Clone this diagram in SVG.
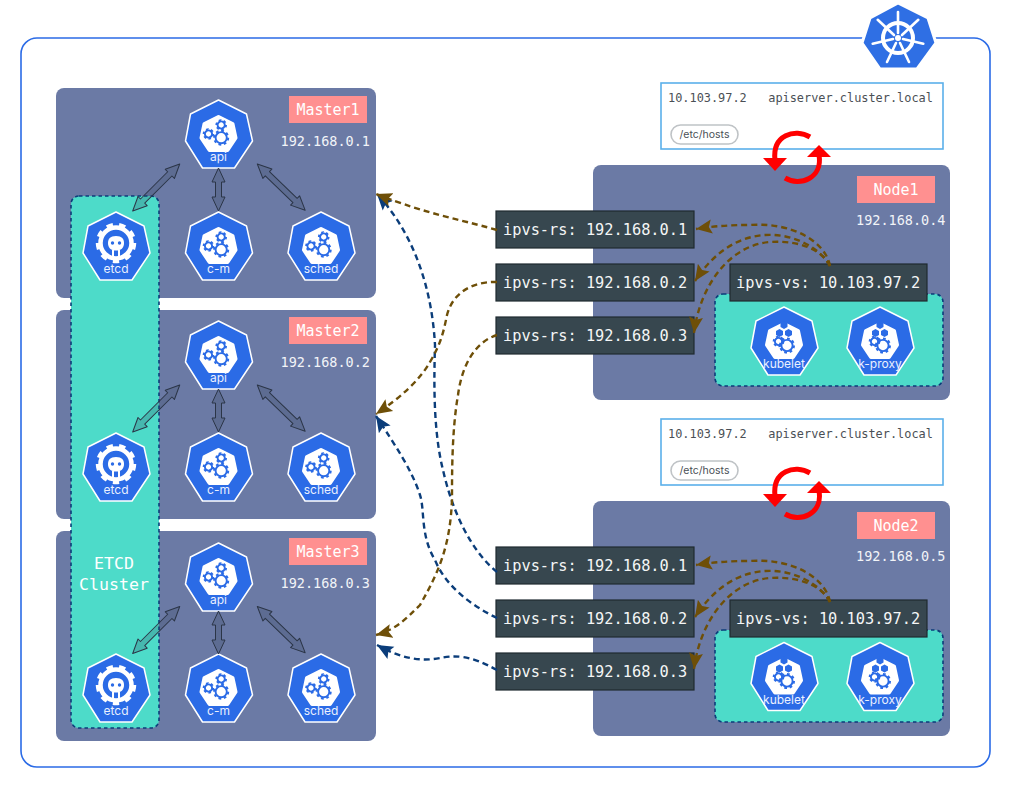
<svg xmlns="http://www.w3.org/2000/svg" width="1024" height="794" viewBox="0 0 1024 794">
<style>
.panel{fill:#6b7aa5}
.teal{fill:#4ddbc9;stroke:#0b3d7a;stroke-width:1.6;stroke-dasharray:3.5 3}
.tag{fill:#ff9090}
.tagt{font:15px "DejaVu Sans Mono",monospace;fill:#fff;text-anchor:middle}
.ip{font:13.500px "DejaVu Sans Mono",monospace;fill:#f2f4f8}
.box{fill:#37474f;stroke:#1f2a30;stroke-width:1.2}
.boxt{font:15.300px "DejaVu Sans Mono",monospace;fill:#f4f6f6}
.hosts{fill:#fff;stroke:#5ab0ea;stroke-width:1.6}
.hostt{font:11.900px "DejaVu Sans Mono",monospace;fill:#4a4f55;white-space:pre}
.pill{fill:#fff;stroke:#bfc3c6;stroke-width:1.6}
.pillt{font:10.500px "Inter","Noto Sans",sans-serif;fill:#4a4f55;text-anchor:middle}
.lbl{font:12px "Inter","Noto Sans",sans-serif;fill:#eaf0ff;text-anchor:middle}
.b{fill:none;stroke:#6e4f08;stroke-width:2.4;stroke-dasharray:6 4;marker-end:url(#hb)}
.n{fill:none;stroke:#0b3d7a;stroke-width:2.4;stroke-dasharray:6 4;marker-end:url(#hn)}
.da{fill:#2f3a50;fill-opacity:.22;stroke:#2b3547;stroke-width:1;stroke-linejoin:round}
.sync{fill:none;stroke:#f00;stroke-width:5}
.gr{fill:none;stroke:#2b6be6;stroke-width:1.9}
.gt{fill:none;stroke:#2b6be6;stroke-width:2;stroke-dasharray:1 1}
</style>
<defs>
<marker id="hb" markerUnits="userSpaceOnUse" markerWidth="17" markerHeight="16" refX="16" refY="8" orient="auto"><path d="M0 1L16 8L0 15L3 8Z" fill="#6e4f08"/></marker>
<marker id="hn" markerUnits="userSpaceOnUse" markerWidth="17" markerHeight="16" refX="16" refY="8" orient="auto"><path d="M0 1L16 8L0 15L3 8Z" fill="#0b3d7a"/></marker>
<path id="hex" d="M0 0L28 14L34 41L16 68L-16 68L-33 41L-28 14Z" fill="#2b6be6" stroke="#fff" stroke-width="1.5" stroke-linejoin="round"/>
<path id="inner" d="M0 17L14 24L17 38L9 50L-9 50L-17 38L-14 24Z" fill="#fff" stroke="#fff" stroke-width="4" stroke-linejoin="round"/>
<g id="g1"><circle r="5.6" class="gr"/><circle r="7" class="gt" pathLength="16"/></g>
<g id="g2"><circle r="3.6" class="gr"/><circle r="4.8" class="gt" pathLength="12"/></g>
<g id="ctrl"><use href="#hex"/><use href="#inner"/><use href="#g1" x="2.7" y="37.7"/><use href="#g2" x="-10" y="34"/><use href="#g2" x="2.7" y="25"/></g>
<g id="etcdi"><use href="#hex"/><circle cy="31" r="15.500" fill="none" stroke="#fff" stroke-width="4.500"/><circle cy="31" r="18.500" fill="none" stroke="#fff" stroke-width="3.500" stroke-dasharray="1 1" pathLength="18"/><path d="M0 24C6 24 8 27 8 31C8 36 5 38.500 0 38.500C-5 38.500 -8 36 -8 31C-8 27 -6 24 0 24Z" fill="#fff"/><circle cx="-3.500" cy="31" r="1.700" fill="#2b6be6"/><circle cx="3.500" cy="31" r="1.700" fill="#2b6be6"/><path d="M-4 38H-2V46H-4ZM2 38H4V46H2Z" fill="#fff"/></g>
<path id="cube" d="M0 -4L3.500 -2V2L0 4L-3.500 2V-2Z" fill="#2b6be6"/>
<g id="wk"><use href="#hex"/><use href="#inner"/><use href="#cube" y="18"/><use href="#cube" x="-4.500" y="26"/><use href="#cube" x="4.500" y="26"/><use href="#g1" x="3" y="38.500"/><use href="#g2" x="-5.500" y="34.500"/></g>
<path id="dal" d="M0 0L14 -6.500V-3H52.500V-6.500L66.500 0L52.500 6.500V3H14V6.500Z" class="da"/>
<path id="das" d="M0 0L14 -6.500V-3H29V-6.500L43 0L29 6.500V3H14V6.500Z" class="da"/>
</defs>

<rect width="1024" height="794" fill="#fff"/>
<rect id="cluster" x="21" y="38" width="969" height="729" rx="16" fill="#fff" stroke="#2b6be6" stroke-width="1.6"/>

<g id="k8s-logo">
<path d="M898 3L928 18L936 43L917 69L880 69L862 43L870 18Z" fill="#2f6fe4" stroke="#fff" stroke-width="3" stroke-linejoin="round"/>
<circle cx="898" cy="38" r="15" fill="none" stroke="#fff" stroke-width="4"/>
<circle cx="898" cy="38" r="3" fill="#fff"/>
<g stroke="#fff" stroke-width="2.600" stroke-linecap="round">
<path d="M898 33V12"/><path d="M902 35L918.300 19.800"/><path d="M903 39L923.300 43.800"/><path d="M900 43L909 62"/><path d="M896 43L887 62"/><path d="M893 39L872.700 43.800"/><path d="M894 35L877.700 19.800"/>
</g>
</g>

<g id="master1"><rect class="panel" x="56" y="88" width="320" height="210" rx="8"/><rect class="tag" x="289" y="96" width="78" height="27"/><text class="tagt" x="328" y="115">Master1</text><text class="ip" x="280.500" y="146">192.168.0.1</text></g>
<g id="master2"><rect class="panel" x="56" y="310" width="320" height="209" rx="8"/><rect class="tag" x="289" y="317" width="78" height="27"/><text class="tagt" x="328" y="336">Master2</text><text class="ip" x="280.500" y="367">192.168.0.2</text></g>
<g id="master3"><rect class="panel" x="56" y="531" width="320" height="210" rx="8"/><rect class="tag" x="289" y="538" width="78" height="27"/><text class="tagt" x="328" y="557">Master3</text><text class="ip" x="280.500" y="588">192.168.0.3</text></g>

<g id="etcd-cluster"><rect class="teal" x="71" y="196" width="88" height="532" rx="8"/><text class="tagt" style="font-size:16.600px" x="114" y="569">ETCD</text><text class="tagt" style="font-size:16.600px" x="114" y="590">Cluster</text></g>

<g id="m1-api" transform="translate(218.500 100)"><use href="#ctrl"/><text class="lbl" y="61">api</text></g>
<g id="m1-etcd" transform="translate(116 212)"><use href="#etcdi"/><text class="lbl" y="61">etcd</text></g>
<g id="m1-cm" transform="translate(218.500 212)"><use href="#ctrl"/><text class="lbl" y="61">c-m</text></g>
<g id="m1-sched" transform="translate(321 212)"><use href="#ctrl"/><text class="lbl" y="61">sched</text></g>
<g id="m2-api" transform="translate(218.500 321)"><use href="#ctrl"/><text class="lbl" y="61">api</text></g>
<g id="m2-etcd" transform="translate(116 433)"><use href="#etcdi"/><text class="lbl" y="61">etcd</text></g>
<g id="m2-cm" transform="translate(218.500 433)"><use href="#ctrl"/><text class="lbl" y="61">c-m</text></g>
<g id="m2-sched" transform="translate(321 433)"><use href="#ctrl"/><text class="lbl" y="61">sched</text></g>
<g id="m3-api" transform="translate(218.500 543)"><use href="#ctrl"/><text class="lbl" y="61">api</text></g>
<g id="m3-etcd" transform="translate(116 654)"><use href="#etcdi"/><text class="lbl" y="61">etcd</text></g>
<g id="m3-cm" transform="translate(218.500 654)"><use href="#ctrl"/><text class="lbl" y="61">c-m</text></g>
<g id="m3-sched" transform="translate(321 654)"><use href="#ctrl"/><text class="lbl" y="61">sched</text></g>

<g id="hosts1"><rect class="hosts" x="661" y="83" width="282" height="66"/><text class="hostt" x="668" y="102">10.103.97.2   apiserver.cluster.local</text><rect class="pill" x="671" y="125" width="67" height="19" rx="9.500"/><text class="pillt" x="704.500" y="138">/etc/hosts</text></g>
<g id="hosts2"><rect class="hosts" x="661" y="419" width="282" height="66"/><text class="hostt" x="668" y="438">10.103.97.2   apiserver.cluster.local</text><rect class="pill" x="671" y="461" width="67" height="19" rx="9.500"/><text class="pillt" x="704.500" y="474">/etc/hosts</text></g>

<g id="node1"><rect class="panel" x="593" y="165" width="357" height="235" rx="8"/><rect class="tag" x="857" y="176" width="78" height="27"/><text class="tagt" x="896" y="195">Node1</text><text class="ip" x="856" y="225">192.168.0.4</text><rect class="teal" x="715" y="294" width="228" height="92" rx="8"/></g>
<g id="node2"><rect class="panel" x="593" y="501" width="357" height="235" rx="8"/><rect class="tag" x="857" y="512" width="78" height="27"/><text class="tagt" x="896" y="531">Node2</text><text class="ip" x="856" y="561">192.168.0.5</text><rect class="teal" x="715" y="630" width="228" height="92" rx="8"/></g>

<g id="n1-kubelet" transform="translate(784 307)"><use href="#wk"/><text class="lbl" y="61">kubelet</text></g>
<g id="n1-kproxy" transform="translate(880 307)"><use href="#wk"/><text class="lbl" y="61">k-proxy</text></g>
<g id="n2-kubelet" transform="translate(784 642.500)"><use href="#wk"/><text class="lbl" y="61">kubelet</text></g>
<g id="n2-kproxy" transform="translate(880 642.500)"><use href="#wk"/><text class="lbl" y="61">k-proxy</text></g>

<g id="n1-rs1"><rect class="box" x="496" y="211" width="198" height="37"/><text class="boxt" x="503" y="235">ipvs-rs: 192.168.0.1</text></g>
<g id="n1-rs2"><rect class="box" x="496" y="264" width="198" height="37"/><text class="boxt" x="503" y="288">ipvs-rs: 192.168.0.2</text></g>
<g id="n1-rs3"><rect class="box" x="496" y="317" width="198" height="37"/><text class="boxt" x="503" y="341">ipvs-rs: 192.168.0.3</text></g>
<g id="n1-vs"><rect class="box" x="730" y="264" width="197" height="37"/><text class="boxt" x="736" y="288">ipvs-vs: 10.103.97.2</text></g>
<g id="n2-rs1"><rect class="box" x="496" y="547" width="198" height="37"/><text class="boxt" x="503" y="571">ipvs-rs: 192.168.0.1</text></g>
<g id="n2-rs2"><rect class="box" x="496" y="600" width="198" height="37"/><text class="boxt" x="503" y="624">ipvs-rs: 192.168.0.2</text></g>
<g id="n2-rs3"><rect class="box" x="496" y="653" width="198" height="37"/><text class="boxt" x="503" y="677">ipvs-rs: 192.168.0.3</text></g>
<g id="n2-vs"><rect class="box" x="730" y="600" width="197" height="37"/><text class="boxt" x="736" y="624">ipvs-vs: 10.103.97.2</text></g>

<g id="connectors">
<g id="block-arrows">
<use href="#dal" transform="translate(132.700 211) rotate(-45)"/>
<use href="#das" transform="translate(218.500 168) rotate(90)"/>
<use href="#dal" transform="translate(257.300 164) rotate(44)"/>
<use href="#dal" transform="translate(132.700 432) rotate(-45)"/>
<use href="#das" transform="translate(218.500 389) rotate(90)"/>
<use href="#dal" transform="translate(257.300 385) rotate(44)"/>
<use href="#dal" transform="translate(132.700 653.500) rotate(-45)"/>
<use href="#das" transform="translate(218.500 611) rotate(90)"/>
<use href="#dal" transform="translate(257.300 606.500) rotate(44)"/>
</g>
<path class="n" d="M497 572C470 550 452 510 443 470C433 430 434 380 435 345C432 290 415 235 377 194"/>
<path class="n" d="M497 618C470 605 445 585 435 560C420 535 425 510 420 495C412 470 395 445 376 416"/>
<path class="n" d="M497 670C470 655 455 655 440 658C420 662 400 658 377 645"/>
<path class="b" d="M497 230C455 218 430 215 376 194"/>
<path class="b" d="M497 282C470 281 452 295 447 315C443 335 440 345 430 362C420 380 400 398 376 414"/>
<path class="b" d="M497 335C475 342 462 365 458 395C452 430 452 470 452 500C450 545 440 570 420 605C405 620 395 630 376 635"/>
<path class="b" d="M830 266C825 240 790 222 750 225C730 225 715 226 696 229"/>
<path class="b" d="M830 266C822 250 795 233 765 235C735 237 712 255 695 281"/>
<path class="b" d="M830 266C822 250 800 240 770 242C730 245 700 285 694 333"/>
<path class="b" d="M830 602C825 576 790 558 750 561C730 561 715 562 696 565"/>
<path class="b" d="M830 602C822 586 795 569 765 571C735 573 712 591 695 617"/>
<path class="b" d="M830 602C822 586 800 576 770 578C730 581 700 621 694 669"/>
<g id="sync1">
<path class="sync" d="M810 137C795 128 772 135 775 160"/><path d="M763 158H787L775 171Z" fill="#f00"/>
<path class="sync" d="M785 178C800 187 823 178 819 155"/><path d="M807 157H831L819 145Z" fill="#f00"/>
</g>
<g id="sync2">
<path class="sync" d="M810 473C795 464 772 471 775 496"/><path d="M763 494H787L775 507Z" fill="#f00"/>
<path class="sync" d="M785 514C800 523 823 514 819 491"/><path d="M807 493H831L819 481Z" fill="#f00"/>
</g>
</g>
</svg>
